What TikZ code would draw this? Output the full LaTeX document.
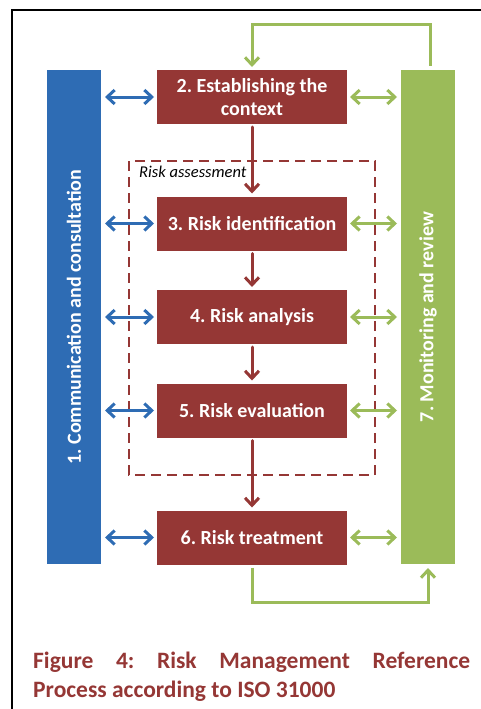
\documentclass[tikz,border=0pt]{standalone}
\usepackage{fontspec}
\setmainfont{Carlito}
\usetikzlibrary{arrows.meta,shadows}
\definecolor{boxred}{HTML}{953735}
\definecolor{commblue}{HTML}{2E6CB4}
\definecolor{mongreen}{HTML}{9BBB59}
\frenchspacing

\begin{document}
\begin{tikzpicture}[x=1pt, y=-1pt,
                    >={Straight Barb[length=7.5pt,width=14pt]}, line cap=round,
                    procbox/.style={fill=boxred, draw=white, line width=3pt,
                      text=white, align=center, inner sep=0pt,
                      minimum width=193pt, minimum height=57pt,
                      font=\bfseries\fontsize{20}{23}\selectfont,
                      drop shadow={shadow xshift=1.5pt, shadow yshift=-1.5pt, opacity=0.25}},
                    sidebar/.style={draw=white, line width=4pt, text=white,
                      rotate=90, inner sep=0pt,
                      minimum width=498pt, minimum height=58pt,
                      font=\bfseries\fontsize{20}{23}\selectfont,
                      drop shadow={shadow xshift=1.5pt, shadow yshift=-1.5pt, opacity=0.25}},
                    flow/.style={->, draw=boxred, line width=3pt},
                    talk/.style={<->, draw=commblue, line width=3pt},
                    watch/.style={<->, draw=mongreen, line width=3pt},
                    loopline/.style={->, draw=mongreen, line width=3pt, line cap=butt}
                   ]
\useasboundingbox (0,0) rectangle (480,709);
%frame
\draw [line width=2pt] (481,10) -- (12,10) -- (12,710);

%side bars
\node [sidebar, fill=commblue] (comm) at (74,317) {1. Communication and consultation};
\node [sidebar, fill=mongreen] (mon) at (428,317) {7. Monitoring and review};

%Risk assessment frame
\draw [boxred, line width=2.8pt, line cap=butt, dash pattern=on 10pt off 6pt] (129,161) rectangle (375,475);
\node [anchor=base west, inner sep=0pt, font=\itshape\fontsize{16.5}{19}\selectfont] (assess) at (139,177) {Risk assessment};

%process steps
\node [procbox] (ctx)  at (252,97)    {2. Establishing the\\context};
\node [procbox] (iden) at (252,223.5) {3. Risk identification};
\node [procbox] (anal) at (252,317)   {4. Risk analysis};
\node [procbox] (eval) at (252,410.5) {5. Risk evaluation};
\node [procbox] (treat) at (252,537.5) {6. Risk treatment};

%downward flow
\draw [flow] (ctx) -- (iden);
\draw [flow] (iden) -- (anal);
\draw [flow] (anal) -- (eval);
\draw [flow] (eval) -- (treat);

%side arrows
\foreach \s in {ctx,iden,anal,eval,treat}{
    \draw [talk] (comm.south |- \s.west) -- (\s.west);
    \draw [watch] (\s.east) -- (mon.north |- \s.east);
}

%feedback loops
\coordinate (loopT) at (252,25);
\coordinate (loopB) at (252,602);
\draw [loopline] ([xshift=2pt]mon.east) |- (loopT) -- (ctx.north);
\draw [loopline] (treat.south) -- (loopB) -| (mon.west);

%caption
\node [anchor=north west, text width=437pt, align=justify, inner sep=0pt,
       text=boxred, font=\bfseries\fontsize{23.5}{29}\selectfont] (cap) at (33,652)
      {Figure 4: Risk Management Reference\linebreak Process according to ISO 31000};
\end{tikzpicture}
\end{document}
